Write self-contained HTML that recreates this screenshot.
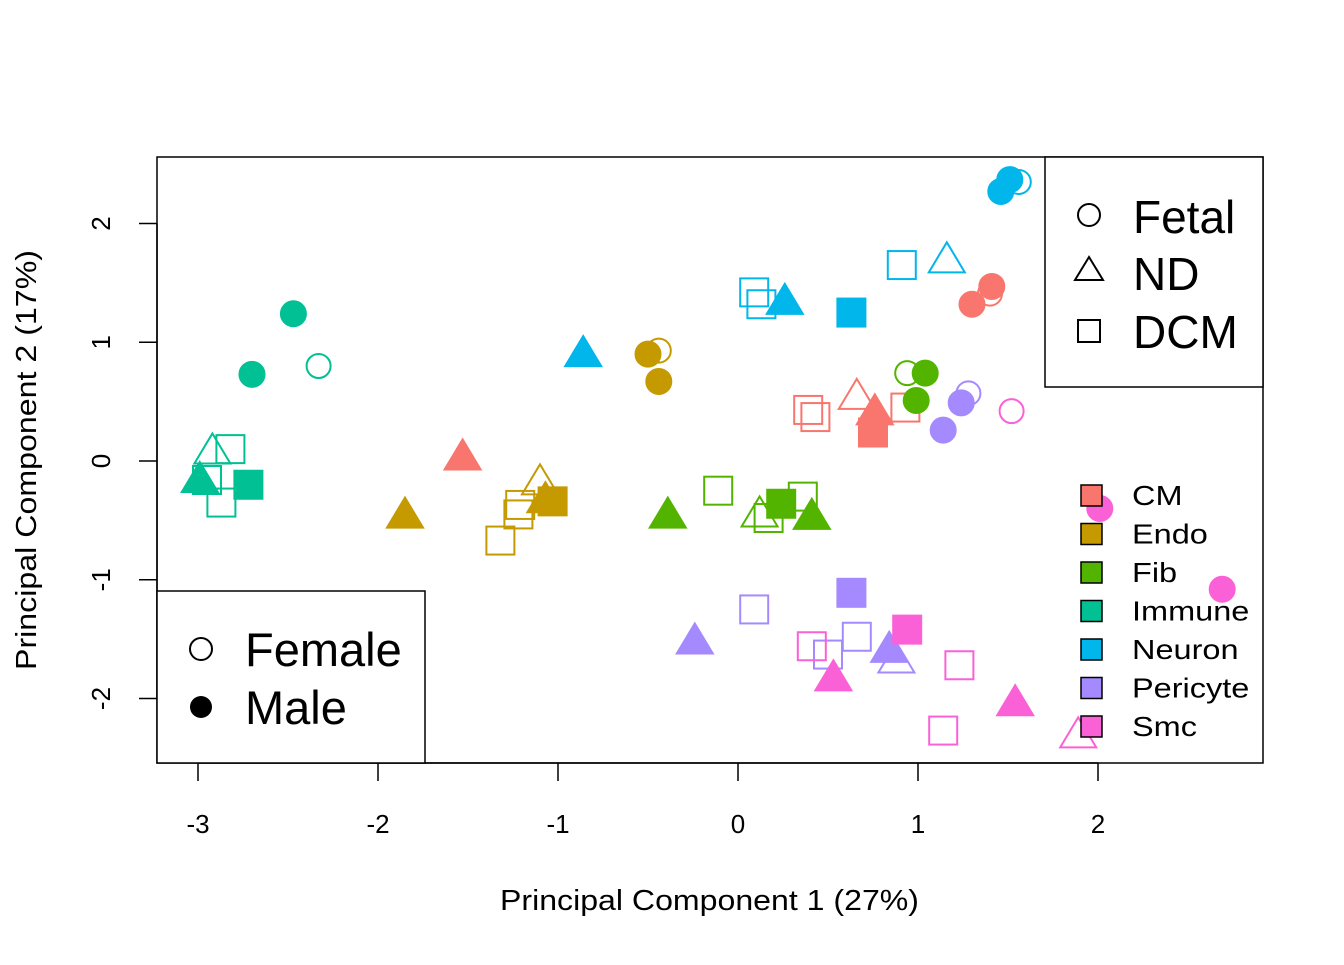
<!DOCTYPE html>
<html><head><meta charset="utf-8">
<style>
html,body{margin:0;padding:0;background:#fff;}
svg text{font-family:"Liberation Sans",sans-serif;}
</style></head>
<body>
<svg width="1344" height="960" viewBox="0 0 1344 960" xmlns="http://www.w3.org/2000/svg">
<rect width="1344" height="960" fill="#fff"/>
<g id="marks"></g>
<rect x="157" y="157" width="1106" height="606" fill="none" stroke="#000" stroke-width="1.5"/>
<g id="axes"></g>
<text x="500" y="910" font-size="29" textLength="419" lengthAdjust="spacingAndGlyphs">Principal Component 1 (27%)</text>
<text transform="translate(36,670) rotate(-90)" font-size="29" textLength="420" lengthAdjust="spacingAndGlyphs">Principal Component 2 (17%)</text>
<g>
<rect x="1045" y="157" width="218" height="230" fill="#fff" stroke="#000" stroke-width="1.5"/>
<circle cx="1089" cy="215" r="11" fill="none" stroke="#000" stroke-width="2"/>
<polygon points="1089,257 1103,280 1075,280" fill="none" stroke="#000" stroke-width="2"/>
<rect x="1078" y="320" width="22" height="22" fill="none" stroke="#000" stroke-width="2"/>
<text x="1133" y="233" font-size="46">Fetal</text>
<text x="1133" y="290" font-size="46">ND</text>
<text x="1133" y="348" font-size="46">DCM</text>
</g>
<g>
<rect x="157" y="591" width="268" height="172" fill="#fff" stroke="#000" stroke-width="1.5"/>
<circle cx="201" cy="649" r="11" fill="none" stroke="#000" stroke-width="2"/>
<circle cx="201" cy="707" r="11" fill="#000"/>
<text x="245" y="666" font-size="47">Female</text>
<text x="245" y="724" font-size="47">Male</text>
</g>
<g id="typelegend"></g>
</svg>
<script>
const types=["CM","Endo","Fib","Immune","Neuron","Pericyte","Smc"];
const colors=["#F8766D","#C49A00","#53B400","#00C094","#00B6EB","#A58AFF","#FB61D7"];
const xTicks=[-3,-2,-1,0,1,2];
const yTicks=[-2,-1,0,1,2];
const pcType=[3,3,3,3,3,3,3,3,3, 1,1,1,1,1,1,1,1,1,1, 0,0,0,0,0,0,0,0,0,0, 2,2,2,2,2,2,2,2,2,2, 4,4,4,4,4,4,4,4,4,4, 5,5,5,5,5,5,5,5,5,5, 6,6,6,6,6,6,6,6,6,6];
const pcShape=["c","c","c","t","s","t","s","s","s", "t","t","s","s","s","s","t","c","c","c", "t","s","s","t","t","s","s","c","c","c", "t","s","t","s","s","s","t","c","c","c", "t","s","s","t","s","s","t","c","c","c", "c","c","c","s","s","s","s","t","t","t", "c","c","c","s","s","s","s","t","t","t"];
const pcFill=[1,1,0,0,0,1,0,0,1, 1,0,0,0,0,1,1,0,1,1, 1,0,0,0,1,1,0,0,1,1, 1,0,0,0,0,1,1,0,1,1, 1,0,0,1,1,0,0,0,1,1, 0,1,1,1,0,0,0,1,1,0, 0,1,1,1,0,0,0,1,1,0];
const pc1=[-2.47,-2.70,-2.33,-2.92,-2.82,-2.99,-2.95,-2.87,-2.72, -1.85,-1.10,-1.21,-1.22,-1.32,-1.03,-1.07,-0.44,-0.50,-0.44, -1.53,0.39,0.43,0.66,0.76,0.75,0.93,1.40,1.30,1.41, -0.39,-0.11,0.12,0.17,0.36,0.24,0.41,0.94,1.04,0.99, -0.86,0.09,0.13,0.26,0.63,0.91,1.16,1.56,1.46,1.51, 1.28,1.24,1.14,0.63,0.09,0.66,0.50,-0.24,0.84,0.88, 1.52,2.01,2.69,0.94,0.41,1.23,1.14,0.53,1.54,1.89];
const pc2=[1.24,0.73,0.80,0.08,0.10,-0.16,-0.16,-0.35,-0.20, -0.46,-0.18,-0.37,-0.45,-0.67,-0.34,-0.33,0.93,0.90,0.67, 0.03,0.43,0.37,0.54,0.41,0.24,0.45,1.41,1.32,1.47, -0.46,-0.25,-0.45,-0.48,-0.30,-0.36,-0.47,0.74,0.74,0.51, 0.90,1.42,1.32,1.34,1.25,1.65,1.69,2.35,2.27,2.37, 0.57,0.49,0.26,-1.11,-1.25,-1.48,-1.63,-1.52,-1.59,-1.68, 0.42,-0.40,-1.08,-1.42,-1.56,-1.72,-2.27,-1.83,-2.04,-2.31];
const NS="http://www.w3.org/2000/svg";
const sx=v=>738+v*180, sy=v=>461-v*118.75;
const marks=document.getElementById("marks");
for(let i=0;i<pc1.length;i++){
  const x=sx(pc1[i]), y=sy(pc2[i]), col=colors[pcType[i]], f=pcFill[i];
  let el;
  if(pcShape[i]==="c"){el=document.createElementNS(NS,"circle");el.setAttribute("cx",x);el.setAttribute("cy",y);el.setAttribute("r",f?12.5:12);}
  else if(pcShape[i]==="t"){el=document.createElementNS(NS,"polygon");el.setAttribute("points",`${x},${y-18} ${x+18},${y+12} ${x-18},${y+12}`);}
  else {el=document.createElementNS(NS,"rect");el.setAttribute("x",x-14);el.setAttribute("y",y-14);el.setAttribute("width",28);el.setAttribute("height",28);}
  el.setAttribute("fill",f?col:"none");el.setAttribute("stroke",col);el.setAttribute("stroke-width",2);
  
  
  marks.appendChild(el);
}
const axes=document.getElementById("axes");
let h='<line x1="'+sx(-3)+'" y1="763" x2="'+sx(2)+'" y2="763" stroke="#000" stroke-width="1.5"/>';
xTicks.forEach(t=>{h+=`<line x1="${sx(t)}" y1="763" x2="${sx(t)}" y2="781" stroke="#000" stroke-width="1.5"/><text x="${sx(t)}" y="833" font-size="26" text-anchor="middle">${t}</text>`;});
h+=`<line x1="157" y1="${sy(-2)}" x2="157" y2="${sy(2)}" stroke="#000" stroke-width="1.5"/>`;
yTicks.forEach(t=>{h+=`<line x1="139" y1="${sy(t)}" x2="157" y2="${sy(t)}" stroke="#000" stroke-width="1.5"/><text transform="translate(110,${sy(t)}) rotate(-90)" font-size="26" text-anchor="middle">${t}</text>`;});
axes.innerHTML=h;
const tl=document.getElementById("typelegend");
let g='';
types.forEach((t,i)=>{const y=495+i*38.5;g+=`<rect x="1081" y="${y-10}" width="21" height="21" fill="${colors[i]}" stroke="#000" stroke-width="1.5"/><text x="1132" y="${y+10}" font-size="28">${t}</text>`;});
tl.innerHTML=g;
tl.querySelectorAll("text").forEach(t=>{const w=t.getComputedTextLength();t.setAttribute("textLength",w*1.16);t.setAttribute("lengthAdjust","spacingAndGlyphs");});
</script>
</body></html>
